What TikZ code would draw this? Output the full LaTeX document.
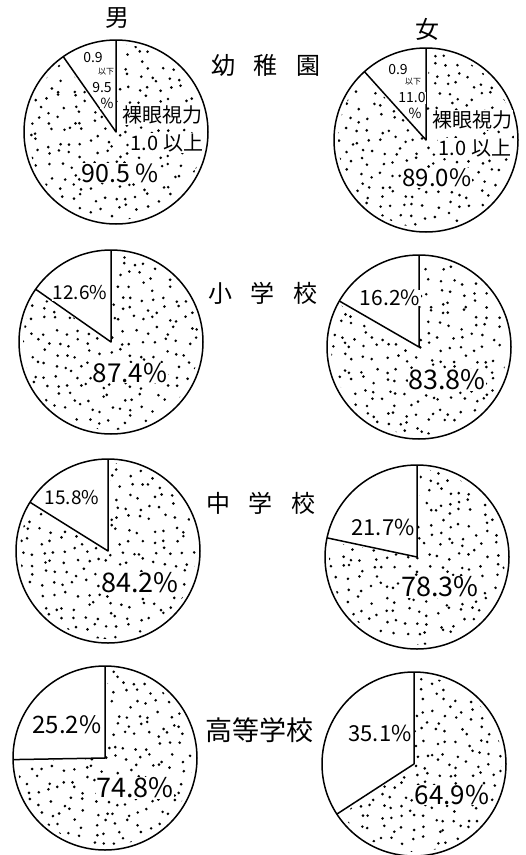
\documentclass[tikz,border=0pt]{standalone}
\usepackage{fontspec}
\setmainfont{Noto Sans CJK JP}
\newcommand\fsz[1]{\fontsize{#1bp}{#1bp}\selectfont}
\tikzset{
  pieline/.style={line width=1.5bp, line join=round},
  lbl/.style={inner sep=0.5bp, fill=white},
  head/.style={inner sep=0bp},
}
\newcommand\pie[4]{%
  \coordinate (#1) at (#2,#3);
  \begin{scope}
    \clip (#1) -- ++(-88:88) arc[start angle=-88, end angle={268-#4}, radius=88] -- cycle;
    \foreach \i in {-8,...,8}{
      \foreach \j in {-8,...,8}{
        \fill (#1) ++({\i*11+9*(rnd-0.5)},{\j*11+9*(rnd-0.5)}) circle[radius=1.45];
      }
    }
  \end{scope}
  \draw[pieline] (#1) circle[radius=92];
  \draw[pieline] (#1) ++(0,-92) coordinate (#1t) -- (#1) -- ++({-90-#4}:92) coordinate (#1w);
}
\begin{document}
\begin{tikzpicture}[x=1bp,y=-1bp]
\pgfmathsetseed{7}
\useasboundingbox (0,0) rectangle (526,855);
% pies
\pie{pa}{116}{132}{35}
\pie{pb}{426}{140}{42}
\pie{pc}{111}{342}{55}
\pie{pd}{419}{347}{60}
\pie{pe}{108}{551}{58}
\pie{pf}{417}{557}{78}
\pie{pg}{105}{758}{91}
\pie{ph}{414}{764}{123}
% headings
\node[head] (boy) at (117,18) {\fsz{24}男};
\node[head] (girl) at (427,29) {\fsz{24}女};
\node[head] (k1) at (266,65) {\fsz{24}幼\hspace{19bp}稚\hspace{19bp}園};
\node[head] (k2) at (263,293) {\fsz{24}小\hspace{19bp}学\hspace{19bp}校};
\node[head] (k3) at (261,503) {\fsz{24}中\hspace{19bp}学\hspace{19bp}校};
\node[head] (k4) at (259,730) {\fsz{27}高等学校};
% row 1 left
\node[lbl] (a1) at (93,58) {\fsz{14}0.9};
\node[lbl] (a2) at (106,72) {\fsz{8}以下};
\node[lbl] (a3) at (102,88) {\fsz{14}9.5};
\node[lbl] (a4) at (107,103) {\fsz{14}\%};
\node[lbl] (a5) at (162,115) {\fsz{20}裸眼視力};
\node[lbl] (a6) at (167,143) {\fsz{20}1.0 以上};
\node[lbl] (a7) at (120,173) {\fsz{25}90.5 \%};
% row 1 right
\node[lbl] (b1) at (398,70) {\fsz{14}0.9};
\node[lbl] (b2) at (413,82) {\fsz{8}以下};
\node[lbl] (b3) at (412,98) {\fsz{14}11.0};
\node[lbl] (b4) at (415,113) {\fsz{14}\%};
\node[lbl] (b5) at (472,120) {\fsz{20}裸眼視力};
\node[lbl] (b6) at (475,148) {\fsz{20}1.0 以上};
\node[lbl] (b7) at (437,178) {\fsz{24}89.0\%};
% row 2
\node[lbl] (c1) at (80,293) {\fsz{19}12.6\%};
\node[lbl] (c2) at (130,373) {\fsz{26}87.4\%};
\node[lbl] (d1) at (390,298) {\fsz{21}16.2\%};
\node[lbl] (d2) at (447,380) {\fsz{27}83.8\%};
% row 3
\node[lbl] (e1) at (72,498) {\fsz{19}15.8\%};
\node[lbl] (e2) at (140,583) {\fsz{27}84.2\%};
\node[lbl] (f1) at (383,527) {\fsz{22}21.7\%};
\node[lbl] (f2) at (440,587) {\fsz{27}78.3\%};
% row 4
\node[lbl] (g1) at (67,725) {\fsz{24}25.2\%};
\node[lbl] (g2) at (135,788) {\fsz{27}74.8\%};
\node[lbl] (h1) at (380,733) {\fsz{22}35.1\%};
\node[lbl] (h2) at (452,795) {\fsz{26}64.9\%};
\end{tikzpicture}
\end{document}
